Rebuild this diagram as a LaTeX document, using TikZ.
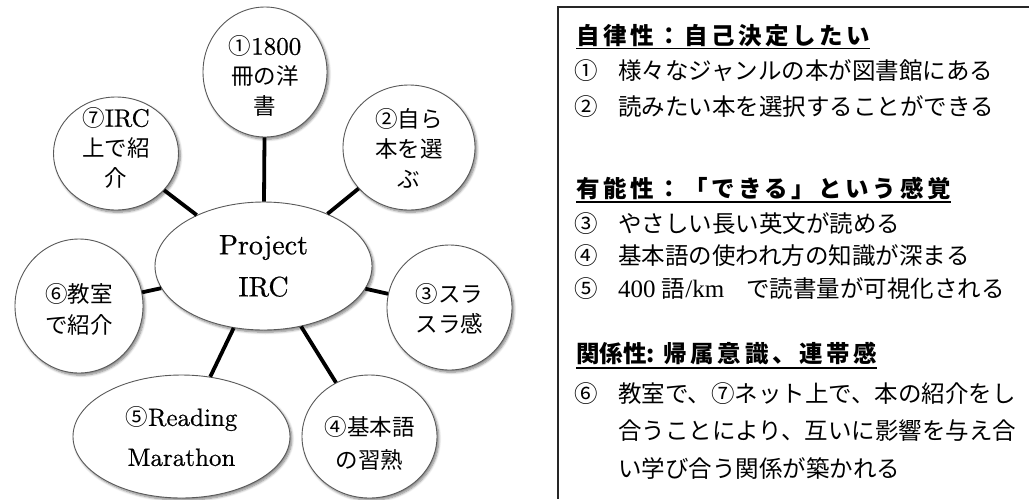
\documentclass[tikz,border=0pt]{standalone}
\usepackage{fontspec}
\newfontfamily\jp{Noto Sans CJK JP}
\newfontfamily\jph[LetterSpace=15]{Noto Sans CJK JP}
\newfontfamily\tms{Liberation Serif}
\newfontfamily\cen[Extension=.otf, FakeBold=0.6]{lmroman10-regular}
\usetikzlibrary{shapes.geometric,shadows.blur}
\tikzset{
  bub/.style={ellipse, draw=black!65, line width=0.9pt, fill=white, inner sep=0pt,
    blur shadow={shadow xshift=1.8pt, shadow yshift=-2.2pt, shadow blur steps=6,
      shadow blur radius=2.5pt, shadow opacity=50}},
  btxt/.style={align=center, inner sep=0pt},
  link/.style={line width=3.8pt, black},
  bodyt/.style={anchor=base west, inner sep=0pt, font=\jp\fontsize{23.5}{28}\selectfont},
  head/.style={anchor=base west, inner sep=0pt, font=\jph\bfseries\fontsize{23.5}{28}\selectfont},
  uline/.style={line width=1.3pt, black},
  frame/.style={line width=1.4pt, black!85}
}
\newcommand{\J}[1]{{\jp\fontsize{22.5}{30}\selectfont #1}}
\begin{document}
\begin{tikzpicture}[x=1pt, y=-1pt]
\useasboundingbox (0,0) rectangle (1029,499);
% bubbles
\node[bub, minimum width=217pt, minimum height=128pt] (main) at (263.5,266) {};
\node[bub, minimum width=124pt, minimum height=130pt] (c1) at (265,72) {};
\node[bub, minimum width=132pt, minimum height=125pt] (c2) at (409,147.5) {};
\node[bub, minimum width=125pt, minimum height=125pt] (c3) at (449.5,307.5) {};
\node[bub, minimum width=135pt, minimum height=123pt] (c4) at (369.5,436.5) {};
\node[bub, minimum width=217pt, minimum height=123pt] (c5) at (181.5,436.5) {};
\node[bub, minimum width=128pt, minimum height=134pt] (c6) at (79,306) {};
\node[bub, minimum width=125pt, minimum height=113pt] (c7) at (116,153.5) {};
% connectors
\foreach \c in {c1,c2,c3,c4,c5,c6,c7}{\draw[link] (main) -- (\c);}
% bubble texts
\node[btxt, font=\cen\fontsize{28}{42}\selectfont] (tm) at (263.5,266) {Project\\IRC};
\node[btxt, font=\cen\fontsize{25}{30}\selectfont] (t1) at (265,76) {\J{①}1800\\\J{冊の洋}\\\J{書}};
\node[btxt, font=\cen\fontsize{25}{30}\selectfont] (t2) at (409,148) {\J{②自ら}\\\J{本を選}\\\J{ぶ}};
\node[btxt, font=\cen\fontsize{25}{30}\selectfont] (t3) at (449.5,309) {\J{③スラ}\\\J{スラ感}};
\node[btxt, font=\cen\fontsize{25}{33}\selectfont] (t4) at (369.5,443) {\J{④基本語}\\\J{の習熟}};
\node[btxt, font=\cen\fontsize{25}{40}\selectfont] (t5) at (181.5,436.5) {\J{⑤}Reading\\Marathon};
\node[btxt, font=\cen\fontsize{25}{31}\selectfont] (t6) at (79,309.5) {\J{⑥教室}\\\J{で紹介}};
\node[btxt, font=\cen\fontsize{25}{30}\selectfont] (t7) at (116,148) {\J{⑦}IRC\\\J{上で紹}\\\J{介}};
% right box
\coordinate (bxR) at (1029,7);
\coordinate (bxC) at (558,7);
\coordinate (bxB) at (558,499);
\draw[frame] (bxR) -- (bxC) -- (bxB);
\node[head] (h1) at (576,44) {自律性：自己決定したい};
\node[bodyt] (n1) at (574,79) {①};
\node[bodyt] (l1) at (618,79) {様々なジャンルの本が図書館にある};
\node[bodyt] (n2) at (574,115) {②};
\node[bodyt] (l2) at (618,115) {読みたい本を選択することができる};
\node[head] (h2) at (576,197) {有能性：「できる」という感覚};
\node[bodyt] (n3) at (574,232) {③};
\node[bodyt] (l3) at (618,232) {やさしい長い英文が読める};
\node[bodyt] (n4) at (574,264) {④};
\node[bodyt] (l4) at (618,264) {基本語の使われ方の知識が深まる};
\node[bodyt] (n5) at (574,297) {⑤};
\node[bodyt] (l5) at (618,297) {{\tms\fontsize{25}{28}\selectfont 400 }語{\tms\fontsize{25}{28}\selectfont /km}\hspace{22pt}で読書量が可視化される};
\node[head] (h3) at (576,362) {{\jp\bfseries 関係性:}\hspace{9pt}帰属意識、連帯感};
\node[bodyt] (n6) at (574,402) {⑥};
\node[bodyt] (l6) at (618,402) {教室で、⑦ネット上で、本の紹介をし};
\node[bodyt] (l7) at (618,439) {合うことにより、互いに影響を与え合};
\node[bodyt] (l8) at (618,477) {い学び合う関係が築かれる};
\draw[uline] ([yshift=-4.5pt]h1.base west) -- ([yshift=-4.5pt]h1.base east);
\draw[uline] ([yshift=-5pt]h2.base west) -- ([yshift=-5pt]h2.base east);
\draw[uline] ([yshift=-6pt]h3.base west) -- ([yshift=-6pt]h3.base east);
\end{tikzpicture}
\end{document}
